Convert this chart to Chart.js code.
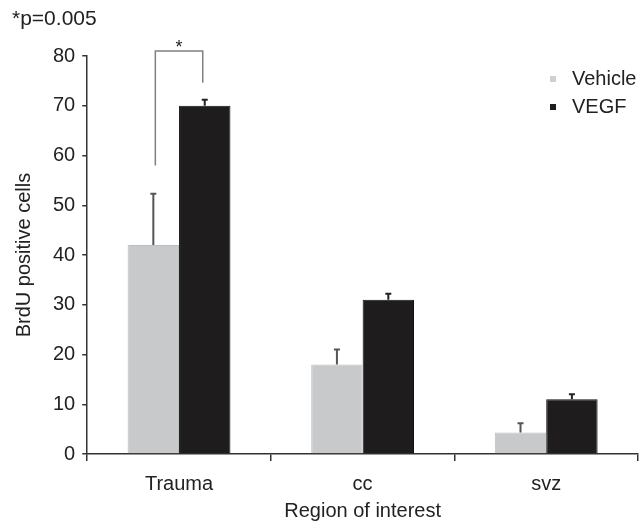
<!DOCTYPE html>
<html>
<head>
<meta charset="utf-8">
<script src="https://cdn.jsdelivr.net/npm/chart.js@4/dist/chart.umd.min.js"></script>
<style>
  body { margin: 0; background: #fff; }
  #wrap { width: 640px; height: 523px; }
</style>
</head>
<body>
<div id="wrap"><canvas id="brduChart" width="640" height="523"></canvas></div>
<script>
const regions = ['Trauma', 'cc', 'svz'];
const vehicle = [42, 18, 4.3];
const vehicleErr = [10.3, 3, 1.9];
const vegf = [70, 31, 11];
const vegfErr = [1.2, 1.2, 1];
const yTicks = [0, 10, 20, 30, 40, 50, 60, 70, 80];

const font = 'Liberation Sans, Arial, sans-serif';

// upper error bars + significance bracket + legend + p-value note
const extras = {
    id: 'extras',
    afterDatasetsDraw(chart) {
        const ctx = chart.ctx;
        const y = chart.scales.y;
        const errs = [vehicleErr, vegfErr];
        const errColor = ['#555', '#222'];
        chart.data.datasets.forEach((ds, di) => {
            const meta = chart.getDatasetMeta(di);
            meta.data.forEach((bar, i) => {
                const top = y.getPixelForValue(ds.data[i] + errs[di][i]);
                ctx.save();
                ctx.strokeStyle = errColor[di];
                ctx.lineWidth = 2;
                ctx.beginPath();
                ctx.moveTo(bar.x, bar.y);
                ctx.lineTo(bar.x, top);
                ctx.moveTo(bar.x - 3, top);
                ctx.lineTo(bar.x + 3, top);
                ctx.stroke();
                ctx.restore();
            });
        });

        // significance bracket over Trauma
        const b0 = chart.getDatasetMeta(0).data[0];
        const b1 = chart.getDatasetMeta(1).data[0];
        const yTop = y.getPixelForValue(81);
        ctx.save();
        ctx.strokeStyle = '#808080';
        ctx.lineWidth = 1.5;
        ctx.beginPath();
        ctx.moveTo(b0.x + 2, y.getPixelForValue(58));
        ctx.lineTo(b0.x + 2, yTop);
        ctx.lineTo(b1.x - 2, yTop);
        ctx.lineTo(b1.x - 2, y.getPixelForValue(74.6));
        ctx.stroke();
        ctx.fillStyle = '#222';
        ctx.font = '18px ' + font;
        ctx.textAlign = 'center';
        ctx.fillText('*', (b0.x + b1.x) / 2, yTop + 2);

        // p-value note
        ctx.textAlign = 'left';
        ctx.textBaseline = 'middle';
        ctx.font = '21px ' + font;
        ctx.fillText('*p=0.005', 12, 19);

        // legend
        const colors = ['#cfd0d2', '#1e1c1d'];
        chart.data.datasets.forEach((ds, di) => {
            const ly = 79 + di * 28;
            ctx.fillStyle = colors[di];
            ctx.fillRect(550, ly - 3, 6, 6);
            ctx.fillStyle = '#222';
            ctx.font = '20px ' + font;
            ctx.fillText(ds.label, 572, ly);
        });
        ctx.restore();
    }
};

new Chart(document.getElementById('brduChart'), {
    type: 'bar',
    data: {
        labels: regions,
        datasets: [{
            label: 'Vehicle',
            data: vehicle,
            backgroundColor: '#c8c9cb',
            borderColor: '#bdbec0',
            borderWidth: 1
        }, {
            label: 'VEGF',
            data: vegf,
            backgroundColor: '#1e1c1d',
            borderColor: '#111',
            borderWidth: 1
        }]
    },
    options: {
        responsive: false,
        animation: false,
        layout: { padding: { top: 56, right: 2, left: 8, bottom: 0 } },
        datasets: { bar: { categoryPercentage: 0.56, barPercentage: 1.0 } },
        plugins: {
            legend: { display: false },
            tooltip: { enabled: false }
        },
        scales: {
            x: {
                grid: {
                    offset: true,
                    drawOnChartArea: false,
                    drawTicks: true,
                    tickLength: 7,
                    color: '#333',
                    lineWidth: 1.5
                },
                border: { color: '#333', width: 1.5 },
                ticks: { color: '#222', font: { family: font, size: 20 }, padding: 11 },
                title: {
                    display: true,
                    text: 'Region of interest',
                    color: '#222',
                    font: { family: font, size: 20 },
                    padding: { top: -8, bottom: 0 }
                }
            },
            y: {
                min: 0,
                max: 80,
                afterBuildTicks(axis) {
                    axis.ticks = yTicks.map(v => ({ value: v }));
                },
                grid: {
                    drawOnChartArea: false,
                    drawTicks: true,
                    tickLength: 5,
                    color: '#333',
                    lineWidth: 1.5
                },
                border: { color: '#333', width: 1.5 },
                ticks: { color: '#222', font: { family: font, size: 20 }, padding: 7 },
                title: {
                    display: true,
                    text: 'BrdU positive cells',
                    color: '#222',
                    font: { family: font, size: 20 },
                    padding: { bottom: 10 }
                }
            }
        }
    },
    plugins: [extras]
});
</script>
</body>
</html>
